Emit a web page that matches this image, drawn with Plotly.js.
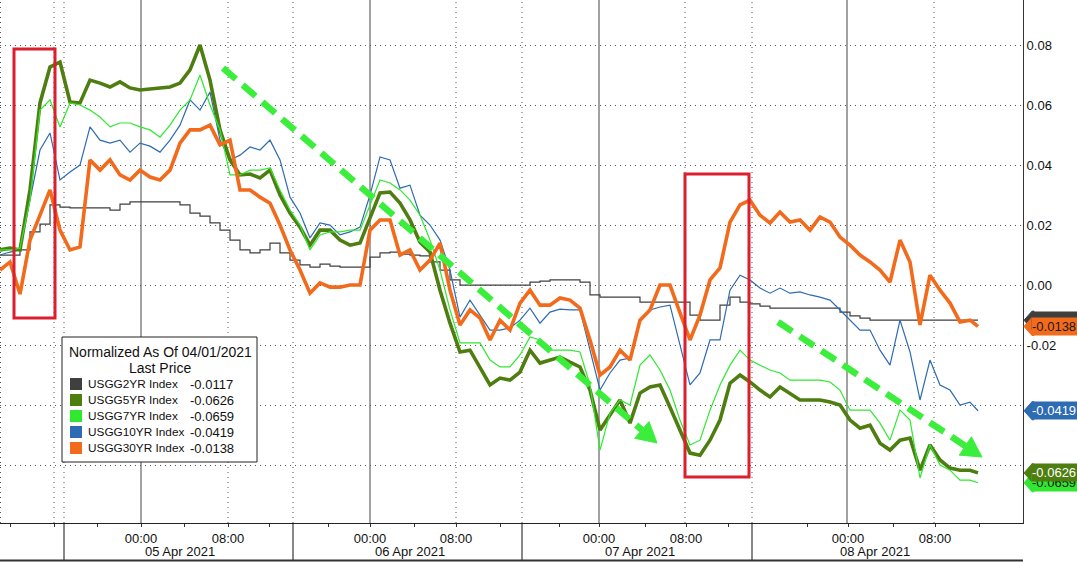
<!DOCTYPE html>
<html>
<head>
<meta charset="utf-8">
<script src="https://cdn.plot.ly/plotly-3.0.1.min.js"></script>
<style>html,body{margin:0;padding:0;background:#fff;}#chart{width:1077px;height:562px;}</style>
</head>
<body>
<div id="chart"></div>
<script>
// ---- DATA (normalized yield change) ----
const seriesNames = ['USGG2YR Index','USGG5YR Index','USGG7YR Index','USGG10YR Index','USGG30YR Index'];
const legendTitle = 'Normalized As Of 04/01/2021';
const legendSub = 'Last Price';

// sample positions (regular intraday samples, last one is the final print)
const samplePos = Array.from({length: 98}, (_, i) => i).concat([97.8]);

const usgg2 = [
 0.0100, 0.0100, 0.0117, 0.0177, 0.0203, 0.0267, 0.0260, 0.0257, 0.0257, 0.0257,
 0.0257, 0.0250, 0.0270, 0.0277, 0.0277, 0.0277, 0.0277, 0.0277, 0.0267, 0.0240,
 0.0230, 0.0207, 0.0183, 0.0150, 0.0117, 0.0107, 0.0117, 0.0140, 0.0107, 0.0083,
 0.0067, 0.0060, 0.0070, 0.0063, 0.0060, 0.0060, 0.0060, 0.0093, 0.0107, 0.0110,
 0.0103, 0.0100, 0.0097, 0.0077, 0.0050, 0.0017, 0.0000, 0.0000, 0.0000, 0.0000,
 0.0000, 0.0000, 0.0000, 0.0010, 0.0013, 0.0017, 0.0017, 0.0017, 0.0010, -0.0033,
 -0.0040, -0.0040, -0.0040, -0.0040, -0.0057, -0.0057, -0.0057, -0.0057, -0.0057, -0.0100,
 -0.0117, -0.0117, -0.0067, -0.0040, -0.0057, -0.0063, -0.0070, -0.0077, -0.0077, -0.0077,
 -0.0077, -0.0077, -0.0077, -0.0077, -0.0090, -0.0103, -0.0110, -0.0117, -0.0117, -0.0117,
 -0.0117, -0.0117, -0.0117, -0.0117, -0.0117, -0.0117, -0.0117, -0.0117, -0.0117
];
const usgg5 = [
 0.0117, 0.0123, 0.0117, 0.0317, 0.0607, 0.0727, 0.0743, 0.0610, 0.0607, 0.0683,
 0.0673, 0.0660, 0.0677, 0.0657, 0.0650, 0.0653, 0.0657, 0.0660, 0.0673, 0.0717,
 0.0800, 0.0683, 0.0517, 0.0417, 0.0367, 0.0370, 0.0357, 0.0383, 0.0300, 0.0240,
 0.0193, 0.0133, 0.0183, 0.0183, 0.0150, 0.0133, 0.0140, 0.0223, 0.0307, 0.0310,
 0.0273, 0.0217, 0.0143, 0.0110, -0.0017, -0.0127, -0.0223, -0.0217, -0.0277, -0.0333,
 -0.0310, -0.0317, -0.0290, -0.0217, -0.0260, -0.0250, -0.0240, -0.0257, -0.0273, -0.0350,
 -0.0483, -0.0433, -0.0383, -0.0460, -0.0360, -0.0340, -0.0333, -0.0407, -0.0483, -0.0560,
 -0.0567, -0.0517, -0.0450, -0.0327, -0.0300, -0.0323, -0.0350, -0.0373, -0.0340, -0.0360,
 -0.0383, -0.0383, -0.0383, -0.0390, -0.0400, -0.0450, -0.0477, -0.0467, -0.0527, -0.0550,
 -0.0517, -0.0510, -0.0617, -0.0533, -0.0583, -0.0610, -0.0617, -0.0617, -0.0626
];
const usgg7 = [
 0.0117, 0.0117, 0.0123, 0.0283, 0.0583, 0.0617, 0.0527, 0.0607, 0.0600, 0.0583,
 0.0560, 0.0527, 0.0540, 0.0540, 0.0527, 0.0517, 0.0493, 0.0533, 0.0583, 0.0617,
 0.0700, 0.0600, 0.0517, 0.0367, 0.0367, 0.0383, 0.0383, 0.0390, 0.0317, 0.0250,
 0.0200, 0.0117, 0.0167, 0.0177, 0.0177, 0.0183, 0.0183, 0.0267, 0.0350, 0.0340,
 0.0317, 0.0283, 0.0233, 0.0150, 0.0050, -0.0083, -0.0193, -0.0193, -0.0193, -0.0250,
 -0.0273, -0.0273, -0.0233, -0.0173, -0.0183, -0.0217, -0.0217, -0.0217, -0.0223, -0.0333,
 -0.0550, -0.0427, -0.0383, -0.0400, -0.0267, -0.0233, -0.0283, -0.0350, -0.0450, -0.0533,
 -0.0517, -0.0417, -0.0333, -0.0267, -0.0217, -0.0250, -0.0267, -0.0283, -0.0293, -0.0317,
 -0.0317, -0.0317, -0.0317, -0.0323, -0.0350, -0.0417, -0.0417, -0.0417, -0.0460, -0.0517,
 -0.0417, -0.0450, -0.0643, -0.0533, -0.0600, -0.0617, -0.0650, -0.0650, -0.0659
];
const usgg10 = [
 0.0100, 0.0110, 0.0117, 0.0283, 0.0450, 0.0507, 0.0350, 0.0377, 0.0400, 0.0527,
 0.0483, 0.0473, 0.0483, 0.0443, 0.0473, 0.0463, 0.0443, 0.0483, 0.0533, 0.0617,
 0.0583, 0.0643, 0.0483, 0.0417, 0.0433, 0.0460, 0.0450, 0.0483, 0.0417, 0.0293,
 0.0240, 0.0157, 0.0207, 0.0200, 0.0167, 0.0177, 0.0193, 0.0300, 0.0427, 0.0417,
 0.0323, 0.0333, 0.0233, 0.0200, 0.0150, 0.0050, -0.0107, -0.0050, -0.0100, -0.0150,
 -0.0150, -0.0143, -0.0117, -0.0077, -0.0127, -0.0090, -0.0080, -0.0083, -0.0083, -0.0217,
 -0.0350, -0.0293, -0.0250, -0.0243, -0.0117, -0.0083, -0.0073, -0.0067, -0.0200, -0.0333,
 -0.0293, -0.0183, -0.0183, -0.0017, 0.0033, 0.0017, -0.0010, -0.0027, -0.0010, -0.0027,
 -0.0023, -0.0033, -0.0040, -0.0050, -0.0083, -0.0117, -0.0150, -0.0150, -0.0217, -0.0267,
 -0.0117, -0.0223, -0.0383, -0.0250, -0.0333, -0.0350, -0.0400, -0.0390, -0.0419
];
const usgg30 = [
 0.0050, 0.0077, -0.0030, 0.0150, 0.0233, 0.0317, 0.0183, 0.0117, 0.0127, 0.0417,
 0.0383, 0.0417, 0.0367, 0.0350, 0.0383, 0.0360, 0.0350, 0.0383, 0.0473, 0.0517,
 0.0517, 0.0533, 0.0467, 0.0483, 0.0317, 0.0317, 0.0293, 0.0273, 0.0200, 0.0117,
 0.0050, -0.0027, 0.0007, -0.0007, -0.0007, 0.0000, 0.0000, 0.0183, 0.0217, 0.0217,
 0.0100, 0.0117, 0.0050, 0.0083, 0.0140, -0.0017, -0.0133, -0.0083, -0.0110, -0.0183,
 -0.0117, -0.0150, -0.0060, -0.0017, -0.0067, -0.0067, -0.0043, -0.0050, -0.0077, -0.0183,
 -0.0300, -0.0273, -0.0217, -0.0250, -0.0117, -0.0083, 0.0000, 0.0000, -0.0093, -0.0183,
 -0.0100, 0.0017, 0.0057, 0.0210, 0.0267, 0.0283, 0.0233, 0.0207, 0.0243, 0.0210,
 0.0217, 0.0183, 0.0227, 0.0210, 0.0160, 0.0133, 0.0100, 0.0077, 0.0050, 0.0010,
 0.0150, 0.0077, -0.0133, 0.0033, -0.0017, -0.0060, -0.0123, -0.0117, -0.0138
];

// axis ticks
const timeTickPos = [14.1, 22.8, 37.0, 45.6, 59.9, 68.6, 84.8, 93.5];
const timeTickText = ['00:00','08:00','00:00','08:00','00:00','08:00','00:00','08:00'];
const minorTickPos = [1.0, 5.4, 9.7, 18.4, 26.9, 32.8, 41.4, 50.0, 55.9, 64.5, 72.8, 80.7, 89.3, 97.9];
const dayLabels = ['05 Apr 2021','06 Apr 2021','07 Apr 2021','08 Apr 2021'];
const dayLabelPos = [18.0, 41.0, 64.0, 87.5];
const daySeparators = [6.4, 29.3, 52.2, 75.2];
const extraDotted = [0.05, 5.4];
const midnightPos = [14.1, 37.0, 59.9, 84.7];
const eightPos = [22.8, 45.6, 68.5, 93.4];
// -0.06 and -0.04 labels sit under the last-price tags in the reference
const yTickVals = [-0.06, -0.04, -0.02, 0.00, 0.02, 0.04, 0.06, 0.08];
const yTickText = ['', '', '-0.02', '0.00', '0.02', '0.04', '0.06', '0.08'];
const yMinorVals = [-0.07, -0.05, -0.03, -0.01, 0.01, 0.03, 0.05, 0.07, 0.09];

// ---- STYLE ----
const FONT = '"Liberation Sans", Arial, sans-serif';
const colors = ['#3f3f3f','#4e7d10','#2fe82f','#2d6bb2','#f26a1b'];
const widths = [1.2, 3.6, 1.2, 1.2, 3.6];
const tagText = ['#ffffff','#ffffff','#111111','#ffffff','#1a1a1a'];
const allSeries = [usgg2, usgg5, usgg7, usgg10, usgg30];

const XMAX = 102.3, YMIN = -0.0793, YMAX = 0.095;
const W = 1023, H = 523;
const PX = p => p / W;
const PY = p => 1 - p / H;
const dataPerPx = (YMAX - YMIN) / H;

const drawOrder = [0, 3, 1, 2, 4];
const traces = drawOrder.map(i => ({
  type: 'scatter', mode: 'lines', x: samplePos, y: allSeries[i], name: seriesNames[i],
  line: {color: colors[i], width: widths[i], shape: i === 0 ? 'hv' : 'linear'},
  hoverinfo: 'skip'
}));
// triangular tick markers and minor ticks on the right axis
traces.push({type:'scatter', mode:'markers', x: yTickVals.map(() => XMAX + 0.35), y: yTickVals,
  marker:{symbol:'triangle-right', size:7, color:'#333'}, cliponaxis:false, hoverinfo:'skip'});
traces.push({type:'scatter', mode:'markers', x: yMinorVals.map(() => XMAX + 0.2), y: yMinorVals,
  marker:{symbol:'line-ew', size:5, line:{color:'#777', width:1}}, cliponaxis:false, hoverinfo:'skip'});

const shapes = [];
const annotations = [];

// vertical grid
[...daySeparators, ...eightPos, ...extraDotted].forEach(x => shapes.push({type:'line', xref:'x', yref:'paper', x0:x, x1:x, y0:0, y1:1, layer:'below', line:{color:'#555', width:1, dash:'1px,4px'}}));
midnightPos.forEach(x => shapes.push({type:'line', xref:'x', yref:'paper', x0:x, x1:x, y0:0, y1:1, layer:'below', line:{color:'#444', width:1}}));
// label area separators and bottom line
daySeparators.forEach(x => shapes.push({type:'line', xref:'x', yref:'paper', x0:x, x1:x, y0:PY(560), y1:0, line:{color:'#111', width:1}}));
shapes.push({type:'line', xref:'paper', yref:'paper', x0:0, x1:1, y0:PY(560.5), y1:PY(560.5), line:{color:'#333', width:2}});

// red highlight rectangles
const redBoxes = [[14, 49, 55, 318], [685, 174, 749, 477]];
redBoxes.forEach(b => shapes.push({type:'rect', xref:'paper', yref:'paper', x0:PX(b[0]), x1:PX(b[2]), y0:PY(b[3]), y1:PY(b[1]), line:{color:'#dc1f2e', width:3}, layer:'above'}));

// green dashed arrows
function arrow(x0, y0, x1, y1) {
  const dx = x1 - x0, dy = y1 - y0, L = Math.hypot(dx, dy);
  const ux = dx / L, uy = dy / L, hl = 20, hw = 11;
  const bx = x1 - hl * ux, by = y1 - hl * uy;
  shapes.push({type:'line', xref:'paper', yref:'paper', x0:PX(x0), y0:PY(y0), x1:PX(bx), y1:PY(by), line:{color:'#3cee3c', width:6.5, dash:'17px,9px'}, layer:'above'});
  const c1x = bx - hw * uy, c1y = by + hw * ux, c2x = bx + hw * uy, c2y = by - hw * ux;
  shapes.push({type:'path', xref:'paper', yref:'paper', path:`M ${PX(x1)},${PY(y1)} L ${PX(c1x)},${PY(c1y)} L ${PX(c2x)},${PY(c2y)} Z`, fillcolor:'#3cee3c', line:{color:'#3cee3c', width:1}, layer:'above'});
}
arrow(223, 68, 657, 443);
arrow(778, 322, 982, 457);

// legend box
shapes.push({type:'rect', xref:'paper', yref:'paper', x0:PX(62), x1:PX(257), y0:PY(462), y1:PY(337), fillcolor:'#ffffff', line:{color:'#222', width:1}, layer:'above'});
annotations.push({xref:'paper', yref:'paper', x:PX(160), y:PY(352), text:legendTitle, showarrow:false, xanchor:'center', yanchor:'middle', font:{family:FONT, size:14, color:'#111'}});
annotations.push({xref:'paper', yref:'paper', x:PX(160), y:PY(368), text:legendSub, showarrow:false, xanchor:'center', yanchor:'middle', font:{family:FONT, size:14, color:'#111'}});
seriesNames.forEach((n, i) => {
  const yc = 384 + 16 * i;
  shapes.push({type:'rect', xref:'paper', yref:'paper', x0:PX(70), x1:PX(82), y0:PY(yc + 6), y1:PY(yc - 6), fillcolor:colors[i], line:{width:0}, layer:'above'});
  annotations.push({xref:'paper', yref:'paper', x:PX(86), y:PY(yc), text:n, showarrow:false, xanchor:'left', yanchor:'middle', font:{family:FONT, size:11.8, color:'#111'}});
  const last = allSeries[i][allSeries[i].length - 1];
  annotations.push({xref:'paper', yref:'paper', x:PX(188), y:PY(yc), text:last.toFixed(4), showarrow:false, xanchor:'left', yanchor:'middle', font:{family:FONT, size:13, color:'#111'}});
});

// value tags on the right axis (later ones drawn on top; the 2YR tag sits hidden under the 30YR tag)
const tagOrder = [0, 4, 3, 2, 1];
tagOrder.forEach(i => {
  const v = allSeries[i][allSeries[i].length - 1];
  const h = 9 * dataPerPx;
  shapes.push({type:'path', xref:'paper', yref:'y', layer:'above',
    path:`M ${PX(1024)},${v} L ${PX(1032)},${v + h} L ${PX(1034)},${v + h} L ${PX(1034)},${v - h} L ${PX(1032)},${v - h} Z`,
    fillcolor:colors[i], line:{color:colors[i], width:1}});
  annotations.push({xref:'paper', yref:'y', x:PX(1031), y:v, text: i === 0 ? ' ' : v.toFixed(4), showarrow:false,
    xanchor:'left', yanchor:'middle', align:'left', width:52, height:17, borderpad:0,
    bgcolor:colors[i], font:{family:FONT, size:13, color:tagText[i]}});
});

// day labels
dayLabels.forEach((d, i) => annotations.push({xref:'x', yref:'paper', x:dayLabelPos[i], y:PY(551), text:d, showarrow:false, xanchor:'center', yanchor:'middle', font:{family:FONT, size:13, color:'#111'}}));

const tickVals = [...timeTickPos, ...minorTickPos];
const tickText = [...timeTickText, ...minorTickPos.map(() => '')];

const layout = {
  width: 1077, height: 562,
  margin: {l: 0, r: 54, t: 0, b: 39, pad: 0},
  paper_bgcolor: '#ffffff', plot_bgcolor: '#ffffff',
  showlegend: false,
  font: {family: FONT, size: 13, color: '#111'},
  xaxis: {range: [0, XMAX], tickmode: 'array', tickvals: tickVals, ticktext: tickText,
    ticks: 'outside', ticklen: 3, tickcolor: '#333', showgrid: false, zeroline: false,
    showline: true, linecolor: '#222', linewidth: 1, tickfont: {family: FONT, size: 13, color: '#111'}, fixedrange: true},
  yaxis: {range: [YMIN, YMAX], side: 'right', tickmode: 'array', tickvals: yTickVals, ticktext: yTickText,
    showgrid: true, gridcolor: '#555', griddash: '1px,4px', gridwidth: 1, zeroline: false,
    showline: true, linecolor: '#333', linewidth: 1, ticks: '',
    tickfont: {family: FONT, size: 13, color: '#111'}, fixedrange: true},
  shapes: shapes,
  annotations: annotations
};

Plotly.newPlot('chart', traces, layout, {displayModeBar: false, staticPlot: true});
</script>
</body>
</html>
